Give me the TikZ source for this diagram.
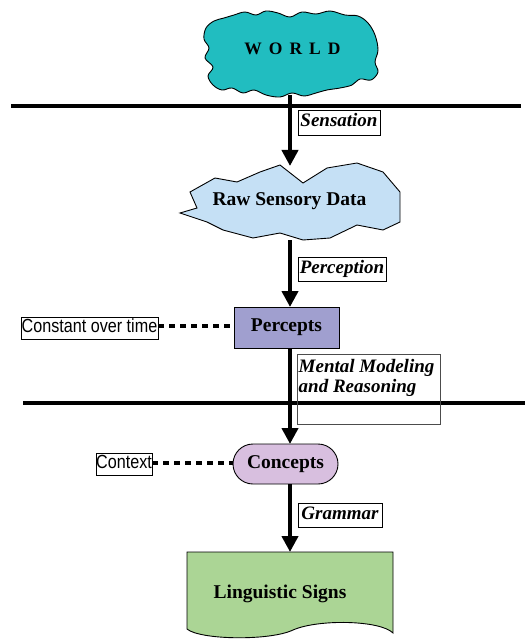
\documentclass[tikz,border=0pt]{standalone}
\usepackage{fontspec}
\setmainfont{Liberation Serif}
\newfontfamily\labelsans{Liberation Sans}
\usetikzlibrary{arrows.meta}

\definecolor{worldteal}{RGB}{33,189,192}
\definecolor{rawblue}{RGB}{197,224,245}
\definecolor{perceptblue}{RGB}{160,159,207}
\definecolor{conceptpink}{RGB}{216,191,223}
\definecolor{signgreen}{RGB}{171,213,149}

\tikzset{
  divider/.style={line width=4pt},
  flow/.style={line width=4.5pt, -{Triangle[width=16pt,length=16pt]}},
  tie/.style={line width=4pt, dash pattern=on 6pt off 5pt},
  shapeline/.style={draw=black, line width=0.9pt},
  bigtext/.style={font=\bfseries\fontsize{19.5}{21}\selectfont},
  steplabel/.style={draw, line width=0.8pt, inner sep=0pt,
    font=\bfseries\itshape\fontsize{19}{21}\selectfont,
    text height=13pt, text depth=4pt},
  sidenote/.style={draw, line width=0.8pt, inner sep=0pt,
    font=\labelsans\fontsize{19}{21}\selectfont,
    text height=13.5pt, text depth=4pt},
}

\begin{document}
\begin{tikzpicture}[x=1pt, y=-1pt]
\useasboundingbox (0,0) rectangle (525,639);

% horizontal dividers
\draw[divider] (11,106.5) -- (521,106.5);
\draw[divider] (23,402.5) -- (525,402.5);

% WORLD cloud
\fill[worldteal, shapeline] plot[smooth cycle, tension=0.6] coordinates {
  (206,28) (214,21) (224,18) (234,15) (245,12) (256,15) (266,11) (278,13)
  (290,17) (302,12) (316,14) (330,11) (345,15) (358,16) (368,23) (375,35)
  (378,50) (375,62) (378,72) (371,80) (360,79) (352,85) (340,88) (327,90)
  (316,93) (304,96) (292,93) (280,97) (266,95) (254,90) (243,93) (232,88)
  (222,90) (213,85) (208,76) (213,67) (205,58) (209,48) (204,39)};
\node[font=\bfseries\fontsize{17.5}{20}\selectfont] (world) at (292.5,49)
  {W\hspace{7pt}O\hspace{7pt}R\hspace{7pt}L\hspace{7pt}D};
\coordinate (worldbot) at (290,95);

% raw sensory data (jagged outline)
\fill[rawblue, shapeline] (190,192) -- (215,178) -- (237,182) -- (260,172)
  -- (280,165) -- (303,183) -- (327,168) -- (357,163) -- (383,172)
  -- (400,192) -- (400,222) -- (383,230) -- (357,225) -- (330,238)
  -- (303,240) -- (280,233) -- (253,238) -- (223,230) -- (207,222)
  -- (180,213) -- (197,208) -- cycle;
\node[bigtext] (raw) at (289.5,201) {Raw Sensory Data};
\coordinate (rawtop) at (290,166);
\coordinate (rawbot) at (290,240);

% percepts
\node[shapeline, fill=perceptblue, bigtext, minimum width=105pt,
  minimum height=41pt, inner sep=0pt] (percepts) at (286.5,327.5) {Percepts};
\coordinate (perceptstop) at (290,307);
\coordinate (perceptsbot) at (290,348);

% concepts
\node[shapeline, fill=conceptpink, bigtext, rounded corners=20pt,
  minimum width=105pt, minimum height=40pt, inner sep=0pt]
  (concepts) at (285.5,464) {Concepts};
\coordinate (conceptstop) at (290,444);
\coordinate (conceptsbot) at (290,484);

% linguistic signs (document shape)
\fill[signgreen, shapeline] (187,552) -- (393,552) -- (393,633)
  .. controls (380,620) and (318,619) .. (293,630)
  .. controls (270,641) and (200,640) .. (187,629) -- cycle;
\node[bigtext] (signs) at (280,594) {Linguistic Signs};
\coordinate (signstop) at (290,552);

% step labels
\node[steplabel, minimum width=82pt, minimum height=25pt] (sensation)
  at (339,122.5) {Sensation};
\node[steplabel, minimum width=88pt, minimum height=24pt] (perception)
  at (342,269) {Perception};
\node[steplabel, minimum width=84pt, minimum height=24pt] (grammar)
  at (340,515) {Grammar};
\node[draw=black!70, line width=0.8pt, minimum width=143pt, minimum height=70pt]
  (mentalbox) at (368.5,389.5) {};
\node[anchor=north west, align=left, inner sep=0pt,
  font=\bfseries\itshape\fontsize{19}{20.5}\selectfont]
  (mental) at (298.5,359) {Mental Modeling\\and Reasoning};

% side notes
\node[sidenote, minimum width=137pt, minimum height=22pt] (constant)
  at (89.5,328) {\scalebox{0.85}[1]{Constant over time}};
\node[sidenote, minimum width=56pt, minimum height=22pt] (context)
  at (124,464) {\scalebox{0.85}[1]{Context}};

% dotted ties
\draw[tie] (constant.east |- 0,326) -- (percepts.west |- 0,326);
\draw[tie] (context.east |- 0,463) -- (concepts.west |- 0,463);

% flow arrows
\draw[flow] (worldbot) -- (rawtop);
\draw[flow] (rawbot) -- (perceptstop);
\draw[flow] (perceptsbot) -- (conceptstop);
\draw[flow] (conceptsbot) -- (signstop);
\end{tikzpicture}
\end{document}
